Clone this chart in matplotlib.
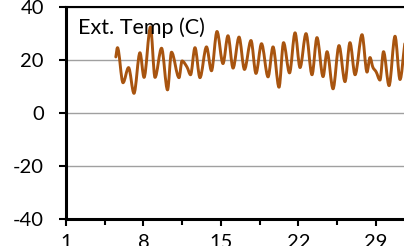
import matplotlib
matplotlib.use("Agg")
import matplotlib.pyplot as plt
from matplotlib.ticker import FixedLocator
from matplotlib.path import Path
from matplotlib.patches import PathPatch

days = [5.50, 5.65, 6.15, 6.65, 7.14, 7.68, 8.05, 8.63, 9.04, 9.63, 10.17, 10.53,
        11.21, 11.48, 11.93, 12.25, 12.65, 13.10, 13.69, 14.14, 14.64, 15.18,
        15.63, 16.09, 16.63, 17.12, 17.71, 18.16, 18.66, 19.25, 19.70, 20.24,
        20.65, 21.19, 21.69, 22.14, 22.68, 23.22, 23.67, 24.22, 24.58, 25.12,
        25.66, 26.20, 26.65, 27.11, 27.74, 28.19, 28.46, 28.73, 29.00, 29.36,
        29.68, 30.18, 30.72, 31.17, 31.60]
temps = [21.0, 24.5, 11.3, 17.0, 7.3, 22.6, 13.3, 32.3, 13.3, 24.3, 8.6, 22.8,
         13.2, 19.5, 17.2, 14.3, 24.5, 13.2, 24.8, 15.8, 30.6, 18.5,
         29.0, 16.8, 28.5, 16.3, 27.2, 14.8, 26.0, 13.5, 24.8, 9.6,
         26.4, 15.0, 30.1, 17.0, 29.8, 14.3, 28.3, 13.6, 23.0, 9.0,
         25.3, 11.7, 26.4, 14.3, 29.4, 15.3, 20.8, 17.0, 15.5, 12.3,
         23.0, 10.2, 28.8, 12.5, 26.0]
x_ticks = [1, 8, 15, 22, 29]
y_ticks = [-40, -20, 0, 20, 40]
title = "Ext. Temp (C)"

plt.rcParams['font.family'] = ['Lato', 'DejaVu Sans']
plt.rcParams['axes.unicode_minus'] = False


def smooth_path(xs, ys):
    """Smoothed line rendering (monotone cubic Bezier through the points)."""
    n = len(xs)
    d = [(ys[i + 1] - ys[i]) / (xs[i + 1] - xs[i]) for i in range(n - 1)]
    m = [0.0] * n
    m[0], m[-1] = d[0], d[-1]
    for i in range(1, n - 1):
        if d[i - 1] * d[i] <= 0:
            m[i] = 0.0
        else:
            h0 = xs[i] - xs[i - 1]
            h1 = xs[i + 1] - xs[i]
            w1, w2 = 2 * h1 + h0, h1 + 2 * h0
            m[i] = (w1 + w2) / (w1 / d[i - 1] + w2 / d[i])
    verts = [(xs[0], ys[0])]
    codes = [Path.MOVETO]
    for i in range(n - 1):
        h = xs[i + 1] - xs[i]
        verts += [(xs[i] + h / 3, ys[i] + m[i] * h / 3),
                  (xs[i + 1] - h / 3, ys[i + 1] - m[i + 1] * h / 3),
                  (xs[i + 1], ys[i + 1])]
        codes += [Path.CURVE4] * 3
    return Path(verts, codes)


fig = plt.figure(figsize=(4.04, 2.46), dpi=100)
W, H = 404, 246
ax = fig.add_axes([66 / W, (H - 219) / H, 1 - 66 / W, (219 - 6.5) / H])

ax.add_patch(PathPatch(smooth_path(days, temps), facecolor="none",
                       edgecolor="#A8540F", lw=2.1, joinstyle="round",
                       capstyle="round", zorder=3))

ax.set_xlim(1, 31.53)
ax.set_ylim(-40, 40)
ax.set_yticks(y_ticks)
ax.set_xticks(x_ticks)
ax.xaxis.set_minor_locator(FixedLocator([4.5, 11.5, 18.5, 25.5, 32.5]))
ax.grid(axis="y", color="#A0A0A0", lw=1.0)
ax.set_axisbelow(True)

for s in ["left", "bottom"]:
    ax.spines[s].set_linewidth(2.2)
    ax.spines[s].set_color("black")
ax.spines["top"].set_linewidth(1.5)
ax.spines["top"].set_color("black")
ax.spines["right"].set_visible(False)

ax.tick_params(axis="y", direction="out", length=5, width=1.5, pad=11, labelsize=14.5)
ax.tick_params(axis="x", which="major", direction="out", length=5, width=1.5, pad=6, labelsize=14.5)
ax.tick_params(axis="x", which="minor", direction="out", length=4.5, width=1.5)

fig.text(78 / W, 1 - 28 / H, title, fontsize=15.5, va="center", ha="left")

fig.savefig("out.png", dpi=100)
